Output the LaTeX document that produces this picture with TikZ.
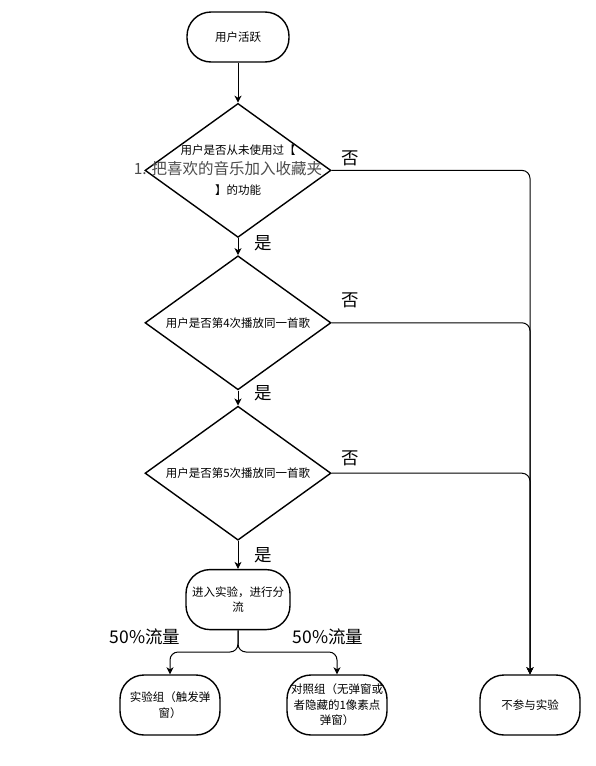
\documentclass[tikz,border=0pt]{standalone}
\usepackage{fontspec}
\setmainfont{Noto Sans CJK SC}
\usetikzlibrary{arrows.meta}
\usetikzlibrary{shapes.geometric,positioning}

\newcommand{\ctrline}[1]{\makebox[0pt]{#1}}

\begin{document}
\begin{tikzpicture}[x=1pt,y=-1pt,
		terminal/.style={rectangle,rounded corners=24pt,draw,line width=1.4pt,
			align=center,inner sep=1pt,minimum width=100pt,minimum height=60pt,
			font=\fontsize{11.5}{15.5}\selectfont},
		decision/.style={diamond,draw,line width=1.4pt,align=center,inner sep=0pt,
			minimum width=186pt,minimum height=134pt,font=\fontsize{11.5}{20}\selectfont},
		flow/.style={-{Stealth[length=7pt,width=7pt,inset=2pt]},line width=1pt,rounded corners=8pt},
		bigtag/.style={font=\fontsize{17.5}{20}\selectfont,inner sep=0pt}]
	
	\useasboundingbox (0,0) rectangle (596,766);
	
	\node[terminal,minimum width=102pt,minimum height=50pt] (start) at (238,37) {用户活跃};
	\node[decision] (d1) [below=40pt of start] {\ctrline{用户是否从未使用过【}\\
		\ctrline{\color{black!70}\fontsize{15.5}{20}\selectfont 1.\hspace{5pt}把喜欢的音乐加入收藏夹\hspace{20pt}}\\
		\ctrline{】的功能}};
	\node[decision] (d2) [below=17pt of d1] {\ctrline{用户是否第4次播放同一首歌}};
	\node[decision] (d3) [below=15pt of d2] {\ctrline{用户是否第5次播放同一首歌}};
	\node[terminal,minimum width=104pt] (split) [below=28pt of d3] {进入实验，进行分\\流};
	\node[terminal] (exp) at (170,705) {实验组（触发弹\\窗）};
	\node[terminal] (ctrl) at (337,705) {对照组（无弹窗或\\者隐藏的1像素点\\弹窗）};
	\node[terminal] (none) at (530,705) {不参与实验};
	\coordinate (fork) at (238,652);
	
	% yes / no tags
	\node[bigtag] (no1) at (350,158) {否};
	\node[bigtag] (no2) at (350,300) {否};
	\node[bigtag] (no3) at (350,458) {否};
	\node[bigtag] (yes1) at (263,243) {是};
	\node[bigtag] (yes2) at (263,393) {是};
	\node[bigtag] (yes3) at (263,555) {是};
	\node[bigtag] (half1) at (145,637) {50\%流量};
	\node[bigtag] (half2) at (328,637) {50\%流量};
	
	\draw[flow] (start) -- (d1);
	\draw[flow] (d1) -- (d2);
	\draw[flow] (d2) -- (d3);
	\draw[flow] (d3) -- (split);
	\draw[flow] (d1.east) -| (none.north);
	\draw[flow] (d2.east) -| (none.north);
	\draw[flow] (d3.east) -| (none.north);
	\draw[flow] (split.south) -- (fork) -| (exp.north);
	\draw[flow] (split.south) -- (fork) -| (ctrl.north);
\end{tikzpicture}
\end{document}
